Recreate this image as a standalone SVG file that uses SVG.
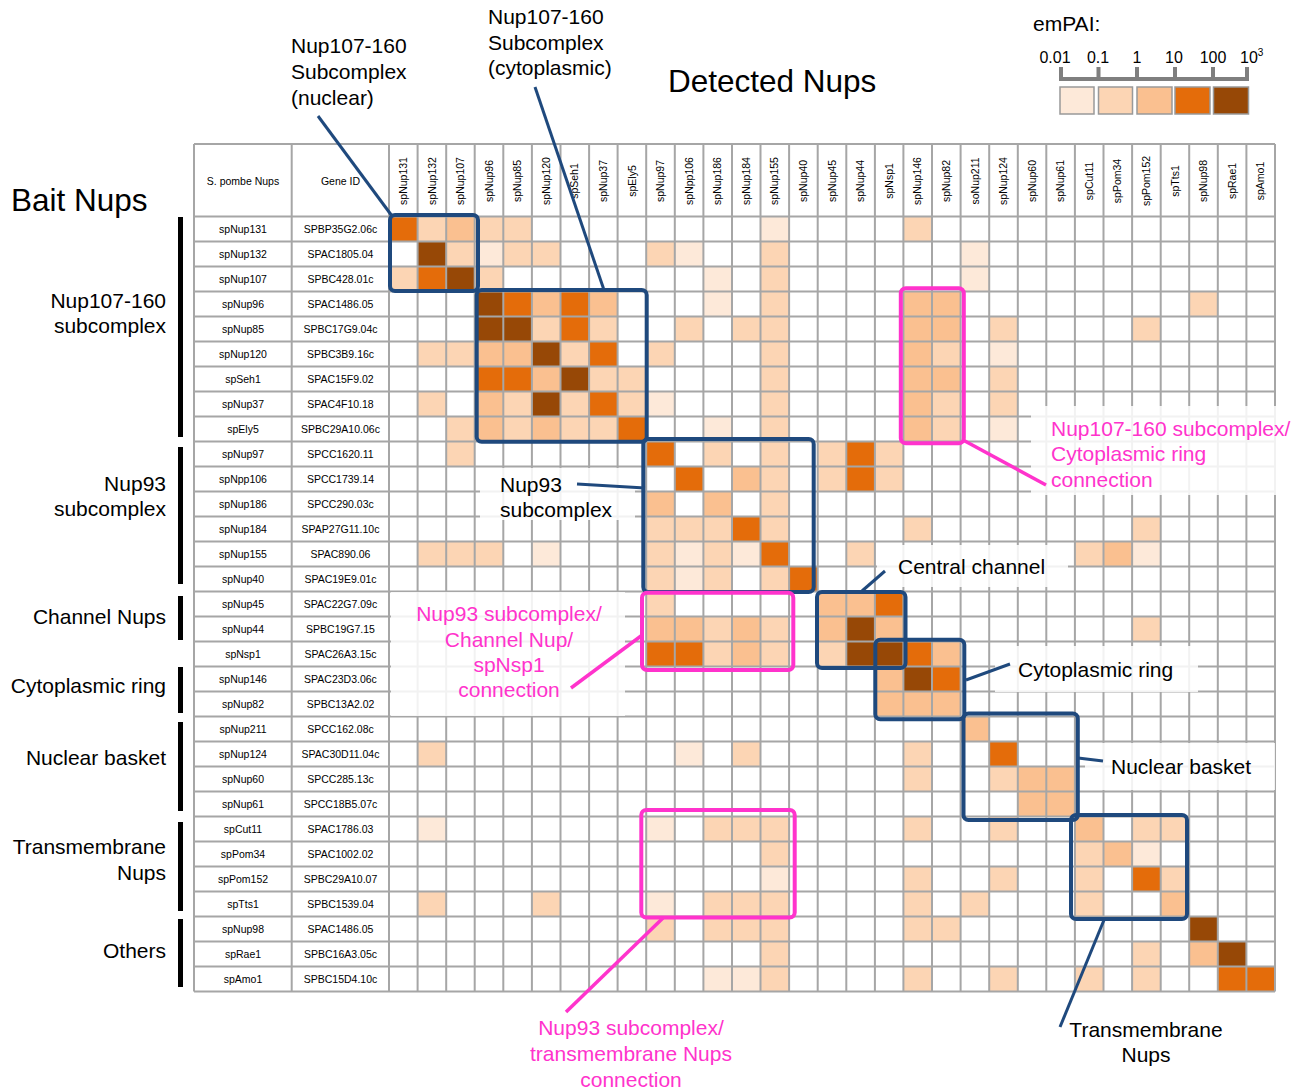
<svg xmlns="http://www.w3.org/2000/svg" width="1314" height="1092" viewBox="0 0 1314 1092">
<style>
.t{font-family:"Liberation Sans",Arial,sans-serif;fill:#000}
.sm{font-size:10.5px;text-anchor:middle}
.cl{font-size:10.5px;text-anchor:middle}
.lg{font-size:21px}
.r{text-anchor:end}
.m{text-anchor:middle}
.pk{fill:#FF33CC}
.g{stroke:#A6A6A6;stroke-width:2;fill:none}
.l1{fill:#FDE9D9}.l2{fill:#FCD5B4}.l3{fill:#FAC090}.l4{fill:#E46C0A}.l5{fill:#974806}
.bb{fill:none;stroke:#1F497D;stroke-width:4}
.pb{fill:none;stroke:#FF33CC;stroke-width:4}
.bl{stroke:#1F497D;stroke-width:3;fill:none}
.pl{stroke:#FF33CC;stroke-width:3.5;fill:none}
.bg{fill:#fff;fill-opacity:0.85}
.bar{fill:#000}
.sw{stroke:#999;stroke-width:1.5}
</style>
<rect width="1314" height="1092" fill="#fff"/>
<!-- cells -->
<g id="cells" transform="translate(389 216.5) scale(28.58 25)">
<rect x="0" y="0" width="1" height="1" class="l4"/><rect x="1" y="0" width="1" height="1" class="l2"/><rect x="2" y="0" width="1" height="1" class="l3"/><rect x="3" y="0" width="1" height="1" class="l2"/><rect x="4" y="0" width="1" height="1" class="l2"/><rect x="13" y="0" width="1" height="1" class="l1"/><rect x="18" y="0" width="1" height="1" class="l2"/>
<rect x="1" y="1" width="1" height="1" class="l5"/><rect x="2" y="1" width="1" height="1" class="l2"/><rect x="3" y="1" width="1" height="1" class="l1"/><rect x="4" y="1" width="1" height="1" class="l2"/><rect x="5" y="1" width="1" height="1" class="l2"/><rect x="9" y="1" width="1" height="1" class="l2"/><rect x="10" y="1" width="1" height="1" class="l1"/><rect x="13" y="1" width="1" height="1" class="l2"/><rect x="20" y="1" width="1" height="1" class="l1"/>
<rect x="0" y="2" width="1" height="1" class="l2"/><rect x="1" y="2" width="1" height="1" class="l4"/><rect x="2" y="2" width="1" height="1" class="l5"/><rect x="3" y="2" width="1" height="1" class="l2"/><rect x="11" y="2" width="1" height="1" class="l1"/><rect x="13" y="2" width="1" height="1" class="l2"/><rect x="20" y="2" width="1" height="1" class="l1"/>
<rect x="3" y="3" width="1" height="1" class="l5"/><rect x="4" y="3" width="1" height="1" class="l4"/><rect x="5" y="3" width="1" height="1" class="l3"/><rect x="6" y="3" width="1" height="1" class="l4"/><rect x="7" y="3" width="1" height="1" class="l3"/><rect x="11" y="3" width="1" height="1" class="l1"/><rect x="13" y="3" width="1" height="1" class="l2"/><rect x="18" y="3" width="1" height="1" class="l3"/><rect x="19" y="3" width="1" height="1" class="l3"/><rect x="28" y="3" width="1" height="1" class="l2"/>
<rect x="3" y="4" width="1" height="1" class="l5"/><rect x="4" y="4" width="1" height="1" class="l5"/><rect x="5" y="4" width="1" height="1" class="l2"/><rect x="6" y="4" width="1" height="1" class="l4"/><rect x="7" y="4" width="1" height="1" class="l2"/><rect x="10" y="4" width="1" height="1" class="l2"/><rect x="12" y="4" width="1" height="1" class="l2"/><rect x="13" y="4" width="1" height="1" class="l2"/><rect x="18" y="4" width="1" height="1" class="l3"/><rect x="19" y="4" width="1" height="1" class="l3"/><rect x="21" y="4" width="1" height="1" class="l2"/><rect x="26" y="4" width="1" height="1" class="l2"/>
<rect x="1" y="5" width="1" height="1" class="l2"/><rect x="2" y="5" width="1" height="1" class="l2"/><rect x="3" y="5" width="1" height="1" class="l3"/><rect x="4" y="5" width="1" height="1" class="l3"/><rect x="5" y="5" width="1" height="1" class="l5"/><rect x="6" y="5" width="1" height="1" class="l2"/><rect x="7" y="5" width="1" height="1" class="l4"/><rect x="9" y="5" width="1" height="1" class="l2"/><rect x="13" y="5" width="1" height="1" class="l2"/><rect x="18" y="5" width="1" height="1" class="l3"/><rect x="19" y="5" width="1" height="1" class="l2"/><rect x="21" y="5" width="1" height="1" class="l1"/>
<rect x="3" y="6" width="1" height="1" class="l4"/><rect x="4" y="6" width="1" height="1" class="l4"/><rect x="5" y="6" width="1" height="1" class="l3"/><rect x="6" y="6" width="1" height="1" class="l5"/><rect x="7" y="6" width="1" height="1" class="l2"/><rect x="8" y="6" width="1" height="1" class="l2"/><rect x="13" y="6" width="1" height="1" class="l2"/><rect x="18" y="6" width="1" height="1" class="l3"/><rect x="19" y="6" width="1" height="1" class="l3"/><rect x="21" y="6" width="1" height="1" class="l2"/>
<rect x="1" y="7" width="1" height="1" class="l2"/><rect x="3" y="7" width="1" height="1" class="l3"/><rect x="4" y="7" width="1" height="1" class="l2"/><rect x="5" y="7" width="1" height="1" class="l5"/><rect x="6" y="7" width="1" height="1" class="l2"/><rect x="7" y="7" width="1" height="1" class="l4"/><rect x="8" y="7" width="1" height="1" class="l2"/><rect x="9" y="7" width="1" height="1" class="l1"/><rect x="13" y="7" width="1" height="1" class="l2"/><rect x="18" y="7" width="1" height="1" class="l3"/><rect x="19" y="7" width="1" height="1" class="l2"/><rect x="21" y="7" width="1" height="1" class="l2"/>
<rect x="2" y="8" width="1" height="1" class="l2"/><rect x="3" y="8" width="1" height="1" class="l3"/><rect x="4" y="8" width="1" height="1" class="l2"/><rect x="5" y="8" width="1" height="1" class="l3"/><rect x="6" y="8" width="1" height="1" class="l2"/><rect x="7" y="8" width="1" height="1" class="l2"/><rect x="8" y="8" width="1" height="1" class="l4"/><rect x="11" y="8" width="1" height="1" class="l1"/><rect x="13" y="8" width="1" height="1" class="l2"/><rect x="18" y="8" width="1" height="1" class="l3"/><rect x="19" y="8" width="1" height="1" class="l2"/><rect x="21" y="8" width="1" height="1" class="l1"/>
<rect x="2" y="9" width="1" height="1" class="l2"/><rect x="9" y="9" width="1" height="1" class="l4"/><rect x="11" y="9" width="1" height="1" class="l2"/><rect x="13" y="9" width="1" height="1" class="l2"/><rect x="15" y="9" width="1" height="1" class="l2"/><rect x="16" y="9" width="1" height="1" class="l4"/><rect x="17" y="9" width="1" height="1" class="l2"/>
<rect x="10" y="10" width="1" height="1" class="l4"/><rect x="12" y="10" width="1" height="1" class="l3"/><rect x="13" y="10" width="1" height="1" class="l2"/><rect x="15" y="10" width="1" height="1" class="l2"/><rect x="16" y="10" width="1" height="1" class="l4"/><rect x="17" y="10" width="1" height="1" class="l2"/>
<rect x="9" y="11" width="1" height="1" class="l3"/><rect x="11" y="11" width="1" height="1" class="l3"/><rect x="13" y="11" width="1" height="1" class="l2"/>
<rect x="9" y="12" width="1" height="1" class="l2"/><rect x="10" y="12" width="1" height="1" class="l2"/><rect x="11" y="12" width="1" height="1" class="l2"/><rect x="12" y="12" width="1" height="1" class="l4"/><rect x="13" y="12" width="1" height="1" class="l2"/><rect x="18" y="12" width="1" height="1" class="l2"/><rect x="26" y="12" width="1" height="1" class="l2"/>
<rect x="1" y="13" width="1" height="1" class="l2"/><rect x="2" y="13" width="1" height="1" class="l2"/><rect x="3" y="13" width="1" height="1" class="l2"/><rect x="5" y="13" width="1" height="1" class="l1"/><rect x="9" y="13" width="1" height="1" class="l2"/><rect x="10" y="13" width="1" height="1" class="l1"/><rect x="11" y="13" width="1" height="1" class="l2"/><rect x="12" y="13" width="1" height="1" class="l1"/><rect x="13" y="13" width="1" height="1" class="l4"/><rect x="16" y="13" width="1" height="1" class="l2"/><rect x="24" y="13" width="1" height="1" class="l2"/><rect x="25" y="13" width="1" height="1" class="l3"/><rect x="26" y="13" width="1" height="1" class="l1"/>
<rect x="9" y="14" width="1" height="1" class="l2"/><rect x="10" y="14" width="1" height="1" class="l1"/><rect x="11" y="14" width="1" height="1" class="l2"/><rect x="13" y="14" width="1" height="1" class="l2"/><rect x="14" y="14" width="1" height="1" class="l4"/>
<rect x="9" y="15" width="1" height="1" class="l2"/><rect x="15" y="15" width="1" height="1" class="l3"/><rect x="16" y="15" width="1" height="1" class="l3"/><rect x="17" y="15" width="1" height="1" class="l4"/>
<rect x="9" y="16" width="1" height="1" class="l3"/><rect x="10" y="16" width="1" height="1" class="l3"/><rect x="11" y="16" width="1" height="1" class="l2"/><rect x="12" y="16" width="1" height="1" class="l3"/><rect x="13" y="16" width="1" height="1" class="l2"/><rect x="15" y="16" width="1" height="1" class="l3"/><rect x="16" y="16" width="1" height="1" class="l5"/><rect x="17" y="16" width="1" height="1" class="l3"/><rect x="26" y="16" width="1" height="1" class="l2"/>
<rect x="9" y="17" width="1" height="1" class="l4"/><rect x="10" y="17" width="1" height="1" class="l4"/><rect x="11" y="17" width="1" height="1" class="l2"/><rect x="12" y="17" width="1" height="1" class="l3"/><rect x="13" y="17" width="1" height="1" class="l2"/><rect x="15" y="17" width="1" height="1" class="l2"/><rect x="16" y="17" width="1" height="1" class="l5"/><rect x="17" y="17" width="1" height="1" class="l5"/><rect x="18" y="17" width="1" height="1" class="l4"/><rect x="19" y="17" width="1" height="1" class="l3"/>
<rect x="17" y="18" width="1" height="1" class="l3"/><rect x="18" y="18" width="1" height="1" class="l5"/><rect x="19" y="18" width="1" height="1" class="l4"/>
<rect x="17" y="19" width="1" height="1" class="l3"/><rect x="18" y="19" width="1" height="1" class="l3"/><rect x="19" y="19" width="1" height="1" class="l3"/>
<rect x="20" y="20" width="1" height="1" class="l3"/>
<rect x="1" y="21" width="1" height="1" class="l2"/><rect x="10" y="21" width="1" height="1" class="l1"/><rect x="12" y="21" width="1" height="1" class="l2"/><rect x="18" y="21" width="1" height="1" class="l2"/><rect x="21" y="21" width="1" height="1" class="l4"/>
<rect x="18" y="22" width="1" height="1" class="l2"/><rect x="21" y="22" width="1" height="1" class="l2"/><rect x="22" y="22" width="1" height="1" class="l3"/><rect x="23" y="22" width="1" height="1" class="l3"/>
<rect x="22" y="23" width="1" height="1" class="l3"/><rect x="23" y="23" width="1" height="1" class="l3"/>
<rect x="1" y="24" width="1" height="1" class="l1"/><rect x="9" y="24" width="1" height="1" class="l1"/><rect x="11" y="24" width="1" height="1" class="l2"/><rect x="12" y="24" width="1" height="1" class="l2"/><rect x="13" y="24" width="1" height="1" class="l2"/><rect x="18" y="24" width="1" height="1" class="l2"/><rect x="21" y="24" width="1" height="1" class="l2"/><rect x="24" y="24" width="1" height="1" class="l3"/><rect x="26" y="24" width="1" height="1" class="l2"/><rect x="27" y="24" width="1" height="1" class="l2"/>
<rect x="13" y="25" width="1" height="1" class="l2"/><rect x="24" y="25" width="1" height="1" class="l2"/><rect x="25" y="25" width="1" height="1" class="l3"/><rect x="26" y="25" width="1" height="1" class="l1"/>
<rect x="13" y="26" width="1" height="1" class="l1"/><rect x="18" y="26" width="1" height="1" class="l2"/><rect x="21" y="26" width="1" height="1" class="l2"/><rect x="24" y="26" width="1" height="1" class="l2"/><rect x="26" y="26" width="1" height="1" class="l4"/><rect x="27" y="26" width="1" height="1" class="l2"/>
<rect x="1" y="27" width="1" height="1" class="l2"/><rect x="5" y="27" width="1" height="1" class="l2"/><rect x="9" y="27" width="1" height="1" class="l1"/><rect x="11" y="27" width="1" height="1" class="l2"/><rect x="12" y="27" width="1" height="1" class="l2"/><rect x="13" y="27" width="1" height="1" class="l2"/><rect x="18" y="27" width="1" height="1" class="l2"/><rect x="20" y="27" width="1" height="1" class="l2"/><rect x="24" y="27" width="1" height="1" class="l2"/><rect x="27" y="27" width="1" height="1" class="l3"/>
<rect x="9" y="28" width="1" height="1" class="l2"/><rect x="11" y="28" width="1" height="1" class="l2"/><rect x="12" y="28" width="1" height="1" class="l2"/><rect x="13" y="28" width="1" height="1" class="l2"/><rect x="18" y="28" width="1" height="1" class="l2"/><rect x="19" y="28" width="1" height="1" class="l2"/><rect x="28" y="28" width="1" height="1" class="l5"/>
<rect x="13" y="29" width="1" height="1" class="l2"/><rect x="26" y="29" width="1" height="1" class="l2"/><rect x="28" y="29" width="1" height="1" class="l3"/><rect x="29" y="29" width="1" height="1" class="l5"/>
<rect x="11" y="30" width="1" height="1" class="l1"/><rect x="12" y="30" width="1" height="1" class="l1"/><rect x="13" y="30" width="1" height="1" class="l2"/><rect x="18" y="30" width="1" height="1" class="l2"/><rect x="21" y="30" width="1" height="1" class="l2"/><rect x="24" y="30" width="1" height="1" class="l2"/><rect x="26" y="30" width="1" height="1" class="l2"/><rect x="29" y="30" width="1" height="1" class="l4"/><rect x="30" y="30" width="1" height="1" class="l4"/>
</g>
<!-- grid -->
<path id="grid" class="g" d="M194 144V991.5M291.7 144V991.5M389 144V991.5M417.6 144V991.5M446.2 144V991.5M474.7 144V991.5M503.3 144V991.5M531.9 144V991.5M560.5 144V991.5M589.1 144V991.5M617.6 144V991.5M646.2 144V991.5M674.8 144V991.5M703.4 144V991.5M732 144V991.5M760.5 144V991.5M789.1 144V991.5M817.7 144V991.5M846.3 144V991.5M874.9 144V991.5M903.4 144V991.5M932 144V991.5M960.6 144V991.5M989.2 144V991.5M1017.8 144V991.5M1046.3 144V991.5M1074.9 144V991.5M1103.5 144V991.5M1132.1 144V991.5M1160.7 144V991.5M1189.2 144V991.5M1217.8 144V991.5M1246.4 144V991.5M1275 144V991.5M194 144H1275M194 216.5H1275M194 241.5H1275M194 266.5H1275M194 291.5H1275M194 316.5H1275M194 341.5H1275M194 366.5H1275M194 391.5H1275M194 416.5H1275M194 441.5H1275M194 466.5H1275M194 491.5H1275M194 516.5H1275M194 541.5H1275M194 566.5H1275M194 591.5H1275M194 616.5H1275M194 641.5H1275M194 666.5H1275M194 691.5H1275M194 716.5H1275M194 741.5H1275M194 766.5H1275M194 791.5H1275M194 816.5H1275M194 841.5H1275M194 866.5H1275M194 891.5H1275M194 916.5H1275M194 941.5H1275M194 966.5H1275M194 991.5H1275"/>
<!-- header -->
<g id="header" class="t">
<text class="sm" x="243" y="185">S. pombe Nups</text>
<text class="sm" x="340.5" y="185">Gene ID</text>
<g class="cl">
<text transform="translate(403.3 181) rotate(-90)" dy=".35em">spNup131</text>
<text transform="translate(431.9 181) rotate(-90)" dy=".35em">spNup132</text>
<text transform="translate(460.5 181) rotate(-90)" dy=".35em">spNup107</text>
<text transform="translate(489 181) rotate(-90)" dy=".35em">spNup96</text>
<text transform="translate(517.6 181) rotate(-90)" dy=".35em">spNup85</text>
<text transform="translate(546.2 181) rotate(-90)" dy=".35em">spNup120</text>
<text transform="translate(574.8 181) rotate(-90)" dy=".35em">spSeh1</text>
<text transform="translate(603.4 181) rotate(-90)" dy=".35em">spNup37</text>
<text transform="translate(631.9 181) rotate(-90)" dy=".35em">spEly5</text>
<text transform="translate(660.5 181) rotate(-90)" dy=".35em">spNup97</text>
<text transform="translate(689.1 181) rotate(-90)" dy=".35em">spNpp106</text>
<text transform="translate(717.7 181) rotate(-90)" dy=".35em">spNup186</text>
<text transform="translate(746.2 181) rotate(-90)" dy=".35em">spNup184</text>
<text transform="translate(774.8 181) rotate(-90)" dy=".35em">spNup155</text>
<text transform="translate(803.4 181) rotate(-90)" dy=".35em">spNup40</text>
<text transform="translate(832 181) rotate(-90)" dy=".35em">spNup45</text>
<text transform="translate(860.6 181) rotate(-90)" dy=".35em">spNup44</text>
<text transform="translate(889.1 181) rotate(-90)" dy=".35em">spNsp1</text>
<text transform="translate(917.7 181) rotate(-90)" dy=".35em">spNup146</text>
<text transform="translate(946.3 181) rotate(-90)" dy=".35em">spNup82</text>
<text transform="translate(974.9 181) rotate(-90)" dy=".35em">soNup211</text>
<text transform="translate(1003.5 181) rotate(-90)" dy=".35em">spNup124</text>
<text transform="translate(1032 181) rotate(-90)" dy=".35em">spNup60</text>
<text transform="translate(1060.6 181) rotate(-90)" dy=".35em">spNup61</text>
<text transform="translate(1089.2 181) rotate(-90)" dy=".35em">spCut11</text>
<text transform="translate(1117.8 181) rotate(-90)" dy=".35em">spPom34</text>
<text transform="translate(1146.4 181) rotate(-90)" dy=".35em">spPom152</text>
<text transform="translate(1174.9 181) rotate(-90)" dy=".35em">spTts1</text>
<text transform="translate(1203.5 181) rotate(-90)" dy=".35em">spNup98</text>
<text transform="translate(1232.1 181) rotate(-90)" dy=".35em">spRae1</text>
<text transform="translate(1260.7 181) rotate(-90)" dy=".35em">spAmo1</text>
</g>
</g>
<!-- row labels -->
<g id="rows" class="t sm">
<text x="243" y="232.7">spNup131</text><text x="340.5" y="232.7">SPBP35G2.06c</text>
<text x="243" y="257.7">spNup132</text><text x="340.5" y="257.7">SPAC1805.04</text>
<text x="243" y="282.7">spNup107</text><text x="340.5" y="282.7">SPBC428.01c</text>
<text x="243" y="307.7">spNup96</text><text x="340.5" y="307.7">SPAC1486.05</text>
<text x="243" y="332.7">spNup85</text><text x="340.5" y="332.7">SPBC17G9.04c</text>
<text x="243" y="357.7">spNup120</text><text x="340.5" y="357.7">SPBC3B9.16c</text>
<text x="243" y="382.7">spSeh1</text><text x="340.5" y="382.7">SPAC15F9.02</text>
<text x="243" y="407.7">spNup37</text><text x="340.5" y="407.7">SPAC4F10.18</text>
<text x="243" y="432.7">spEly5</text><text x="340.5" y="432.7">SPBC29A10.06c</text>
<text x="243" y="457.7">spNup97</text><text x="340.5" y="457.7">SPCC1620.11</text>
<text x="243" y="482.7">spNpp106</text><text x="340.5" y="482.7">SPCC1739.14</text>
<text x="243" y="507.7">spNup186</text><text x="340.5" y="507.7">SPCC290.03c</text>
<text x="243" y="532.7">spNup184</text><text x="340.5" y="532.7">SPAP27G11.10c</text>
<text x="243" y="557.7">spNup155</text><text x="340.5" y="557.7">SPAC890.06</text>
<text x="243" y="582.7">spNup40</text><text x="340.5" y="582.7">SPAC19E9.01c</text>
<text x="243" y="607.7">spNup45</text><text x="340.5" y="607.7">SPAC22G7.09c</text>
<text x="243" y="632.7">spNup44</text><text x="340.5" y="632.7">SPBC19G7.15</text>
<text x="243" y="657.7">spNsp1</text><text x="340.5" y="657.7">SPAC26A3.15c</text>
<text x="243" y="682.7">spNup146</text><text x="340.5" y="682.7">SPAC23D3.06c</text>
<text x="243" y="707.7">spNup82</text><text x="340.5" y="707.7">SPBC13A2.02</text>
<text x="243" y="732.7">spNup211</text><text x="340.5" y="732.7">SPCC162.08c</text>
<text x="243" y="757.7">spNup124</text><text x="340.5" y="757.7">SPAC30D11.04c</text>
<text x="243" y="782.7">spNup60</text><text x="340.5" y="782.7">SPCC285.13c</text>
<text x="243" y="807.7">spNup61</text><text x="340.5" y="807.7">SPCC18B5.07c</text>
<text x="243" y="832.7">spCut11</text><text x="340.5" y="832.7">SPAC1786.03</text>
<text x="243" y="857.7">spPom34</text><text x="340.5" y="857.7">SPAC1002.02</text>
<text x="243" y="882.7">spPom152</text><text x="340.5" y="882.7">SPBC29A10.07</text>
<text x="243" y="907.7">spTts1</text><text x="340.5" y="907.7">SPBC1539.04</text>
<text x="243" y="932.7">spNup98</text><text x="340.5" y="932.7">SPAC1486.05</text>
<text x="243" y="957.7">spRae1</text><text x="340.5" y="957.7">SPBC16A3.05c</text>
<text x="243" y="982.7">spAmo1</text><text x="340.5" y="982.7">SPBC15D4.10c</text>
</g>
<!-- boxes -->
<g id="blue-boxes">
<rect id="box-nuclear" class="bb" x="390" y="215" width="88" height="76" rx="5"/>
<rect id="box-cyto" class="bb" x="476.7" y="290" width="170" height="151.7" rx="5"/>
<rect id="box-nup93" class="bb" x="643.3" y="439" width="170.4" height="153" rx="5"/>
<rect id="box-central" class="bb" x="817" y="592" width="88.5" height="76" rx="5"/>
<rect id="box-cytoring" class="bb" x="875.3" y="639.7" width="89" height="79.6" rx="5"/>
<rect id="box-basket" class="bb" x="963.5" y="713.5" width="114.3" height="106.5" rx="5"/>
<rect id="box-tm" class="bb" x="1071" y="815" width="116" height="104" rx="5"/>
</g>
<g id="pink-boxes">
<rect id="pbox-a" class="pb" x="900.8" y="288.3" width="63" height="155" rx="5"/>
<rect id="pbox-b" class="pb" x="642" y="592.8" width="151.3" height="77.2" rx="5"/>
<rect id="pbox-c" class="pb" x="641.3" y="810" width="153.4" height="107.5" rx="5"/>
</g>
<!-- label backgrounds -->
<g id="label-bg">
<rect class="bg" x="480" y="468" width="155" height="52"/>
<rect class="bg" x="391" y="592" width="234" height="124"/>
<rect class="bg" x="1031" y="406" width="270" height="89"/>
<rect class="bg" x="877" y="545" width="191" height="42"/>
<rect class="bg" x="995" y="646" width="203" height="46"/>
<rect class="bg" x="1085" y="743" width="190" height="47"/>
</g>
<!-- connectors -->
<g id="connectors">
<path class="bl" d="M318 116L392 216"/>
<path class="bl" d="M535 87L604 290"/>
<path class="bl" d="M577 484L645 488"/>
<path class="bl" d="M885 571L862 591"/>
<path class="bl" d="M1010 664L966 680"/>
<path class="bl" d="M1103 761L1078 758"/>
<path class="bl" d="M1104 920L1060 1027"/>
<path class="pl" d="M963 440L1046 485"/>
<path class="pl" d="M641 636L571 688"/>
<path class="pl" d="M663 918L566 1012"/>
</g>
<!-- titles -->
<g id="titles" class="t">
<text x="668" y="92" font-size="31.5">Detected Nups</text>
<text x="11" y="211" font-size="31.5">Bait Nups</text>
<g class="lg">
<text x="291" y="53">Nup107-160</text><text x="291" y="79">Subcomplex</text><text x="291" y="105">(nuclear)</text>
<text x="488" y="24">Nup107-160</text><text x="488" y="50">Subcomplex</text><text x="488" y="75">(cytoplasmic)</text>
<text x="500" y="492">Nup93</text><text x="500" y="517">subcomplex</text>
<text x="898" y="574">Central channel</text>
<text x="1018" y="677">Cytoplasmic ring</text>
<text x="1111" y="774">Nuclear basket</text>
<text class="m" x="1146" y="1037">Transmembrane</text><text class="m" x="1146" y="1062">Nups</text>
</g>
</g>
<g id="pink-labels" class="t lg">
<text class="pk" x="1051" y="436">Nup107-160 subcomplex/</text>
<text class="pk" x="1051" y="461">Cytoplasmic ring</text>
<text class="pk" x="1051" y="487">connection</text>
<text class="pk m" x="509" y="621">Nup93 subcomplex/</text>
<text class="pk m" x="509" y="647">Channel Nup/</text>
<text class="pk m" x="509" y="672">spNsp1</text>
<text class="pk m" x="509" y="697">connection</text>
<text class="pk m" x="631" y="1035">Nup93 subcomplex/</text>
<text class="pk m" x="631" y="1061">transmembrane Nups</text>
<text class="pk m" x="631" y="1087">connection</text>
</g>
<!-- left group labels -->
<g id="groups">
<g class="t lg r">
<text x="166" y="308">Nup107-160</text><text x="166" y="333">subcomplex</text>
<text x="166" y="491">Nup93</text><text x="166" y="516">subcomplex</text>
<text x="166" y="624">Channel Nups</text>
<text x="166" y="693">Cytoplasmic ring</text>
<text x="166" y="765">Nuclear basket</text>
<text x="166" y="854">Transmembrane</text><text x="166" y="880">Nups</text>
<text x="166" y="958">Others</text>
</g>
<rect class="bar" x="178" y="217" width="5" height="220"/>
<rect class="bar" x="178" y="447" width="5" height="137"/>
<rect class="bar" x="178" y="596" width="5" height="44"/>
<rect class="bar" x="178" y="667" width="5" height="46"/>
<rect class="bar" x="178" y="722" width="5" height="89"/>
<rect class="bar" x="178" y="822" width="5" height="89"/>
<rect class="bar" x="178" y="919" width="5" height="68"/>
</g>
<!-- legend -->
<g id="legend">
<text class="t" x="1033" y="31" font-size="21">emPAI:</text>
<g class="t m" font-size="16">
<text x="1055" y="63">0.01</text>
<text x="1098" y="63">0.1</text>
<text x="1137" y="63">1</text>
<text x="1174" y="63">10</text>
<text x="1213" y="63">100</text>
<text x="1240" y="63" text-anchor="start">10<tspan font-size="10" dy="-7">3</tspan></text>
</g>
<path d="M1059 79H1249M1061 67V81M1098.5 67V81M1137 67V81M1175 67V81M1213 67V81M1247 67V81" stroke="#7F7F7F" stroke-width="4" fill="none"/>
<rect class="l1 sw" x="1060" y="87" width="34" height="27"/>
<rect class="l2 sw" x="1098.5" y="87" width="34" height="27"/>
<rect class="l3 sw" x="1137" y="87" width="35" height="27"/>
<rect class="l4 sw" x="1175" y="87" width="35" height="27"/>
<rect class="l5 sw" x="1213.5" y="87" width="35" height="27"/>
</g>
</svg>
